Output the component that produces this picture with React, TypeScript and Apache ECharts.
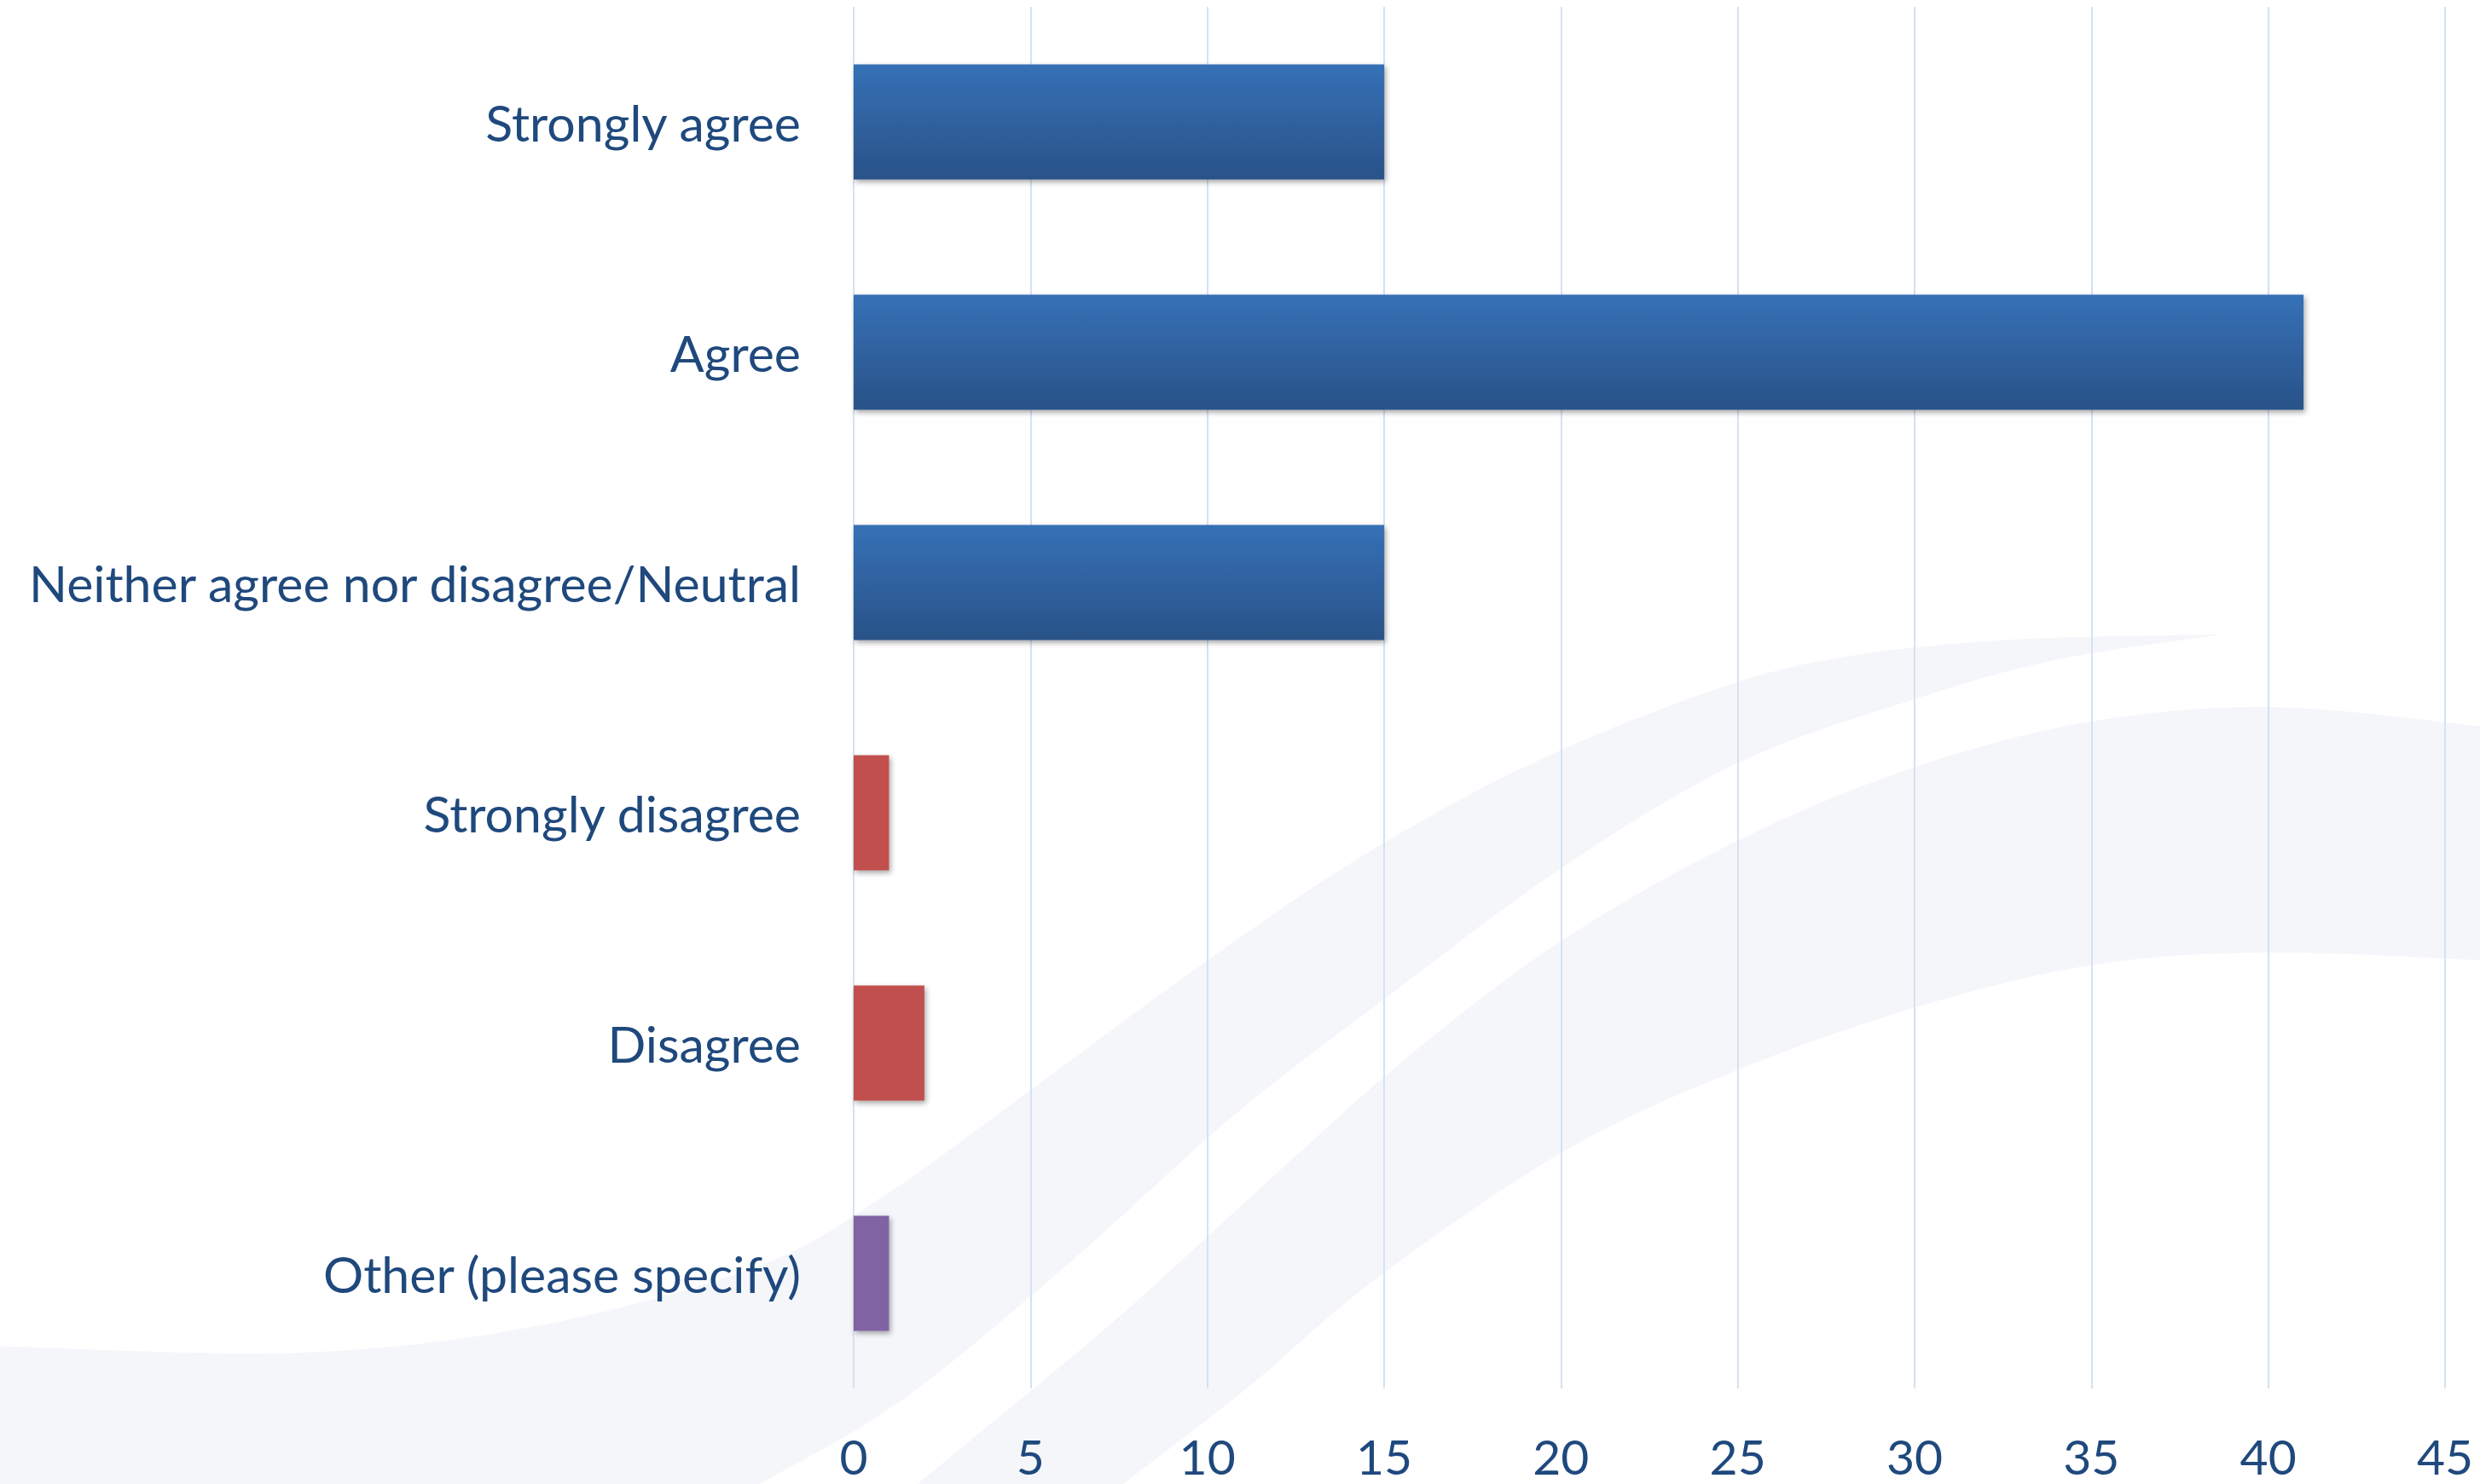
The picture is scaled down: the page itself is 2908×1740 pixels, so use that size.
import React, { useEffect, useRef } from "react";
import * as echarts from "echarts";

const categories = [
  "Strongly agree",
  "Agree",
  "Neither agree nor disagree/Neutral",
  "Strongly disagree",
  "Disagree",
  "Other (please specify)",
];
const values = [15, 41, 15, 1, 2, 1];
const barKinds = ["blue", "blue", "blue", "red", "red", "purple"];
const xTicks = [0, 5, 10, 15, 20, 25, 30, 35, 40, 45];

const TEXT = "#1F497D";
const FONT = "Lato";

type P = [number, number];
function curve(pts: P[]): string {
  let d = "";
  for (let i = 0; i < pts.length - 1; i++) {
    const p0 = pts[i - 1] || pts[i];
    const p1 = pts[i];
    const p2 = pts[i + 1];
    const p3 = pts[i + 2] || p2;
    const c1 = [p1[0] + (p2[0] - p0[0]) / 6, p1[1] + (p2[1] - p0[1]) / 6];
    const c2 = [p2[0] - (p3[0] - p1[0]) / 6, p2[1] - (p3[1] - p1[1]) / 6];
    d += ` C ${c1[0]} ${c1[1]} ${c2[0]} ${c2[1]} ${p2[0]} ${p2[1]}`;
  }
  return d;
}

// decorative background swooshes (in 1568x938 units, scaled up)
const s1Upper: P[] = [
  [0, 851], [190, 855], [340, 838], [480, 800], [560, 755], [650, 690], [755, 613],
  [850, 548], [945, 494], [1040, 452], [1140, 420], [1260, 405], [1405, 401],
];
const s1Lower: P[] = [
  [1405, 401], [1300, 417], [1210, 442], [1099, 482], [988, 548], [877, 630],
  [780, 705], [674, 800], [570, 885], [480, 938],
];
const s2Upper: P[] = [
  [1568, 459], [1438, 447], [1322, 456], [1210, 485], [1099, 531], [988, 594],
  [890, 668], [800, 748], [710, 830], [620, 905], [580, 938],
];
const s2Lower: P[] = [
  [710, 938], [790, 876], [869, 809], [988, 728], [1099, 676], [1210, 637],
  [1322, 610], [1433, 602], [1568, 607],
];
const d1 = `M 0 851${curve(s1Upper)}${curve(s1Lower)} L 480 940 L 0 940 Z`;
const d2 = `M 1568 459${curve(s2Upper)} L 580 940 L 710 940 L 710 938${curve(s2Lower)} Z`;
echarts.graphic.registerShape("swooshA", echarts.graphic.extendPath(d1, {}) as any);
echarts.graphic.registerShape("swooshB", echarts.graphic.extendPath(d2, {}) as any);

const colorFor = (k: string) => {
  if (k === "blue")
    return new echarts.graphic.LinearGradient(0, 0, 0, 1, [
      { offset: 0, color: "#3571B6" },
      { offset: 1, color: "#2A5288" },
    ]);
  if (k === "red") return "#C0504D";
  return "#8064A2";
};

export default function App() {
  const ref = useRef<HTMLDivElement>(null);
  useEffect(() => {
    if (!ref.current) return;
    const chart = echarts.init(ref.current, undefined, { renderer: "svg" });
    const sc = 2908 / 1568;
    chart.setOption({
      animation: false,
      backgroundColor: "#ffffff",
      graphic: [
        {
          type: "swooshA", x: 0, y: 0, scaleX: sc, scaleY: sc, z: -10, silent: true,
          style: { fill: "#F4F6FA" },
        },
        {
          type: "swooshB", x: 0, y: 0, scaleX: sc, scaleY: sc, z: -10, silent: true,
          style: { fill: "#F4F6FA" },
        },
      ],
      grid: { left: 1001, right: 41, top: 8, bottom: 112, containLabel: false },
      xAxis: {
        type: "value",
        min: 0,
        max: 45,
        interval: 5,
        axisLine: { show: false },
        axisTick: { show: false },
        splitLine: { show: true, lineStyle: { color: "#D5E2F2", width: 2 } },
        axisLabel: {
          color: TEXT, fontFamily: FONT, fontSize: 57, margin: 50,
          formatter: (v: number) => (xTicks.includes(v) ? String(v) : ""),
        },
      },
      yAxis: {
        type: "category",
        inverse: true,
        data: categories,
        axisLine: { show: false },
        axisTick: { show: false },
        splitLine: { show: false },
        axisLabel: { color: TEXT, fontFamily: FONT, fontSize: 59, margin: 62 },
      },
      series: [
        {
          type: "bar",
          barWidth: "50%",
          data: values.map((v, i) => ({
            value: v,
            itemStyle: {
              color: colorFor(barKinds[i]),
              shadowColor: "rgba(0,0,0,0.35)",
              shadowBlur: 6,
              shadowOffsetX: 2,
              shadowOffsetY: 3,
            },
          })),
        },
      ],
    });
    return () => chart.dispose();
  }, []);
  return (
    <div
      ref={ref}
      style={{ position: "fixed", left: 0, top: 0, width: 2908, height: 1740 }}
    />
  );
}
